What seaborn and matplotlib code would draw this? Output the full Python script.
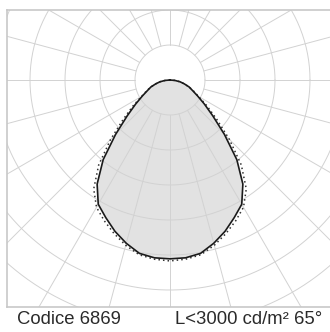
import numpy as np
import pandas as pd
import matplotlib
matplotlib.use('Agg')
import matplotlib.pyplot as plt
import seaborn as sns

# photometric curve, cd/klm, gamma measured from nadir (half profile, mirrored)
gamma = [0, 5, 10, 15, 20, 25, 30, 35, 40, 45, 50, 55, 60, 65, 70, 75, 80, 85, 90]
c0_180 = [511, 510, 503, 483, 460, 434, 410, 363, 297, 220, 160, 120, 91, 71, 58, 42, 29, 14, 0]
c90_270 = [517, 514, 507, 489, 467, 444, 420, 380, 317, 240, 174, 129, 94, 74, 58, 42, 29, 14, 0]

ring_step = 100
n_rings = 9
spoke_step = 15

caption_left = 'Codice 6869'
caption_right = 'L<3000 cd/m² 65°'


def to_xy(g, vals):
    g = np.asarray(g, dtype=float)
    v = np.asarray(vals, dtype=float)
    full_g = np.concatenate([-g[::-1], g[1:]])
    full_v = np.concatenate([v[::-1], v[1:]])
    rad = np.radians(full_g)
    return pd.DataFrame({'x': full_v * np.sin(rad), 'y': -full_v * np.cos(rad)})


sns.set_style('white')
plt.rcParams['font.family'] = ['Liberation Sans', 'DejaVu Sans']

fig = plt.figure(figsize=(3.3, 3.32), dpi=100)
ax = fig.add_axes([7 / 330, 1 - 307 / 332, 328 / 330, 297 / 332])

px = ring_step / 35.0
ax.set_xlim((7 - 170) * px, (335 - 170) * px)
ax.set_ylim((80 - 307) * px, (80 - 10) * px)

grid_col = '#d2d2d2'
t = np.linspace(0, 2 * np.pi, 400)
for k in range(1, n_rings + 1):
    r = k * ring_step
    ax.plot(r * np.cos(t), r * np.sin(t), color=grid_col, lw=0.7, zorder=2)
for a in range(0, 360, spoke_step):
    ar = np.radians(a)
    ax.plot([ring_step * np.cos(ar), 12 * ring_step * np.cos(ar)],
            [ring_step * np.sin(ar), 12 * ring_step * np.sin(ar)],
            color=grid_col, lw=0.7, zorder=2)

solid = to_xy(gamma, c0_180)
dotted = to_xy(gamma, c90_270)

ax.fill(solid['x'], solid['y'], color='#e2e2e2', zorder=1, lw=0)
sns.lineplot(data=dotted, x='x', y='y', sort=False, estimator=None, ax=ax,
             color='#333333', lw=1.1, linestyle=(0, (1, 2)), zorder=3, legend=False)
sns.lineplot(data=solid, x='x', y='y', sort=False, estimator=None, ax=ax,
             color='#1a1a1a', lw=1.2, zorder=4, legend=False)

ax.set_xticks([])
ax.set_yticks([])
ax.set_xlabel('')
ax.set_ylabel('')
for side in ['left', 'top', 'bottom']:
    ax.spines[side].set_color('#c8c8c8')
    ax.spines[side].set_linewidth(1.2)
ax.spines['right'].set_visible(False)

fig.text(17 / 330, 1 - 319 / 332, caption_left, ha='left', va='center',
         fontsize=13.3, color='#2a2a2a')
fig.text(322 / 330, 1 - 319 / 332, caption_right, ha='right', va='center',
         fontsize=13.3, color='#2a2a2a')

fig.savefig('out.png', dpi=100)
